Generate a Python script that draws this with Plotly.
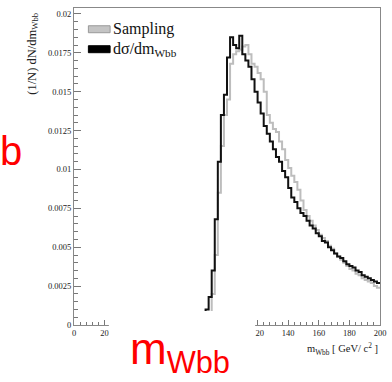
import numpy as np
import plotly.graph_objects as go

# ---- data ----
bin_width = 2.0
bin_centers = list(np.arange(85, 200, 2.0))  # 85 .. 199
dsigma = [0.0, 0.0010, 0.0018, 0.0035, 0.0068, 0.0105, 0.0135, 0.0148, 0.0172, 0.0185,
          0.0180, 0.0178, 0.0186, 0.0174, 0.0170, 0.0166, 0.0158, 0.0150, 0.0143, 0.0136,
          0.0128, 0.0123, 0.0118, 0.0113, 0.0108, 0.0105, 0.0099, 0.0095, 0.0088, 0.0082,
          0.0079, 0.0075, 0.0072, 0.0070, 0.0067, 0.0064, 0.0062, 0.0059, 0.0057, 0.0054,
          0.0053, 0.0050, 0.0048, 0.0046, 0.0044, 0.0043, 0.0041, 0.0039, 0.0038, 0.0037,
          0.0035, 0.0034, 0.0032, 0.0031, 0.0030, 0.0029, 0.0028, 0.0027]
sampling = [0.0, 0.0, 0.0008, 0.0020, 0.0045, 0.0085, 0.0115, 0.0135, 0.0145, 0.0168,
            0.0174, 0.0176, 0.0177, 0.0179, 0.0180, 0.0174, 0.0168, 0.0166, 0.0162, 0.0158,
            0.0150, 0.0135, 0.0130, 0.0126, 0.0124, 0.0118, 0.0113, 0.0106, 0.0101, 0.0096,
            0.0092, 0.0087, 0.0080, 0.0074, 0.0070, 0.0067, 0.0064, 0.0061, 0.0058, 0.0056,
            0.0054, 0.0051, 0.0049, 0.0046, 0.0044, 0.0042, 0.0040, 0.0038, 0.0036, 0.0035,
            0.0033, 0.0032, 0.0030, 0.0029, 0.0028, 0.0027, 0.0025, 0.0024]
x_ticks = [0, 20, 40, 60, 80, 100, 120, 140, 160, 180, 200]
# labels 40..100 are hidden behind the white patch in the reference
x_tick_labels = ["0", "20", "", "", "", "", "120", "140", "160", "180", "200"]
y_ticks = [0, 0.0025, 0.005, 0.0075, 0.01, 0.0125, 0.015, 0.0175, 0.02]
y_tick_labels = ["0", "0.0025", "0.005", "0.0075", "0.01", "0.0125", "0.015", "0.0175", "0.02"]
series_names = ["Sampling", "dσ/dm<sub>Wbb</sub>"]


def steps(centers, vals):
    edges = [c - bin_width / 2 for c in centers] + [centers[-1] + bin_width / 2]
    ys = list(vals) + [vals[-1]]
    return edges, ys


fig = go.Figure()
ex, ey = steps(bin_centers, sampling)
fig.add_trace(go.Scatter(x=ex, y=ey, mode="lines", line=dict(shape="hv", color="#bdbdbd", width=2),
                         name=series_names[0], showlegend=False))
ex, ey = steps(bin_centers, dsigma)
fig.add_trace(go.Scatter(x=ex, y=ey, mode="lines", line=dict(shape="hv", color="#111111", width=2),
                         name=series_names[1], showlegend=False))

serif = "Liberation Serif"
fig.update_layout(
    width=392, height=382,
    margin=dict(l=74, r=12, t=8, b=57),
    paper_bgcolor="white", plot_bgcolor="white",
    font=dict(family=serif, color="#222"),
    xaxis=dict(range=[0, 200], tickvals=x_ticks, ticktext=x_tick_labels, ticks="inside",
               ticklen=5, tickcolor="#777", tickfont=dict(size=8.5, family=serif, color="#222"),
               showline=True, linecolor="#888", linewidth=1, mirror=True, showgrid=False,
               zeroline=False, automargin=False,
               minor=dict(dtick=4, ticks="inside", ticklen=3, tickcolor="#777", showgrid=False)),
    yaxis=dict(range=[0, 0.02038], tickvals=y_ticks, ticktext=y_tick_labels, ticks="inside",
               ticklen=7, tickcolor="#777", tickfont=dict(size=8.5, family=serif, color="#222"),
               showline=True, linecolor="#888", linewidth=1, mirror=True, showgrid=False,
               zeroline=False, automargin=False,
               minor=dict(dtick=0.0005, ticks="inside", ticklen=4, tickcolor="#777", showgrid=False)),
)

# axis titles
fig.add_annotation(xref="paper", yref="paper", x=1.0, y=-0.045, xanchor="right", yanchor="top",
                   text="m<sub>Wbb</sub> [ GeV/ c<sup>2</sup> ]", showarrow=False,
                   font=dict(size=10.5, family=serif, color="#222"))
fig.add_annotation(xref="paper", yref="paper", x=-0.135, y=0.995, xanchor="center", yanchor="top",
                   text="(1/N) dN/dm<sub>Wbb</sub>", textangle=-90, showarrow=False,
                   font=dict(size=12.5, family=serif, color="#222"))

# legend (drawn manually: filled boxes + text)
leg_colors = ["#c4c4c4", "#000000"]
leg_lines = ["#999999", "#000000"]
leg_y = [0.933, 0.870]
for name, fc, lc, yy in zip(series_names, leg_colors, leg_lines, leg_y):
    fig.add_shape(type="rect", xref="paper", yref="paper", x0=0.047, x1=0.118,
                  y0=yy - 0.011, y1=yy + 0.011, fillcolor=fc, line=dict(color=lc, width=1))
    fig.add_annotation(xref="paper", yref="paper", x=0.122, y=yy, xanchor="left", yanchor="middle",
                       text=name, showarrow=False, font=dict(size=16, family=serif, color="#111"))

# white overlay covering part of the axis
fig.add_shape(type="rect", xref="paper", yref="paper", x0=0.114, x1=0.592, y0=-0.2, y1=0.044,
              fillcolor="white", line=dict(width=0), layer="above")

# red overlay text
red_font = "Liberation Sans"
fig.add_annotation(xref="paper", yref="paper", x=-0.25, y=0.548, xanchor="left", yanchor="middle",
                   text="b", showarrow=False, font=dict(size=40, family=red_font, color="#ff0000"))
fig.add_annotation(xref="paper", yref="paper", x=0.178, y=-0.18, xanchor="left", yanchor="bottom",
                   text="m<sub>Wbb</sub>", showarrow=False, font=dict(size=44, family=red_font, color="#ff0000"))

fig.write_html("out.html", post_script="document.body.style.margin='0px';",
               config={"displayModeBar": False})
